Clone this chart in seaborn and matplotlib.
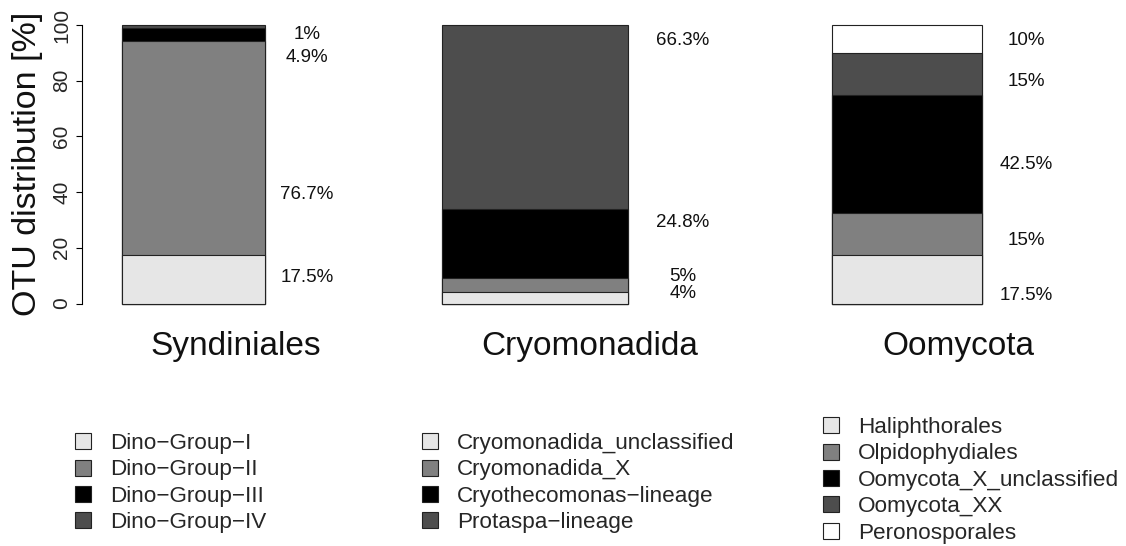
import numpy as np
import pandas as pd
import matplotlib
matplotlib.use("Agg")
import matplotlib.pyplot as plt
import seaborn as sns
from matplotlib.patches import Patch
from matplotlib.transforms import blended_transform_factory

sns.set_theme(style="white")
plt.rcParams['font.family'] = ['Liberation Sans', 'DejaVu Sans']

# ---------------- data ----------------
titles = ["Syndiniales", "Cryomonadida", "Oomycota"]

syn_groups = ["Dino\u2212Group\u2212I", "Dino\u2212Group\u2212II", "Dino\u2212Group\u2212III", "Dino\u2212Group\u2212IV"]
syn_values = [17.5, 76.7, 4.9, 1.0]
syn_labels = ["17.5%", "76.7%", "4.9%", "1%"]
syn_label_y = [9.2, 39.2, 88.4, 96.6]

cryo_groups = ["Cryomonadida_unclassified", "Cryomonadida_X", "Cryothecomonas\u2212lineage", "Protaspa\u2212lineage"]
cryo_values = [4.0, 5.0, 24.8, 66.3]
cryo_labels = ["4%", "5%", "24.8%", "66.3%"]
cryo_label_y = [3.6, 9.8, 29.0, 94.4]

oomy_groups = ["Haliphthorales", "Olpidophydiales", "Oomycota_X_unclassified", "Oomycota_XX", "Peronosporales"]
oomy_values = [17.5, 15.0, 42.5, 15.0, 10.0]
oomy_labels = ["17.5%", "15%", "42.5%", "15%", "10%"]
oomy_label_y = [3.0, 22.5, 50.0, 79.6, 94.4]

syn_colors = ["#e6e6e6", "#808080", "#000000", "#4d4d4d"]
cryo_colors = ["#e6e6e6", "#808080", "#000000", "#4d4d4d"]
oomy_colors = ["#e6e6e6", "#808080", "#000000", "#4d4d4d", "#ffffff"]

yticks = [0, 20, 40, 60, 80, 100]

# ---------------- layout (pixels) ----------------
W, H = 1126, 546
fig = plt.figure(figsize=(W / 100, H / 100), dpi=100)

panels = [
    dict(groups=syn_groups, values=syn_values, labels=syn_labels, ly=syn_label_y, colors=syn_colors,
         x0=121.5, x1=265, lab_x=307, title_x=236, leg_x=75, leg_top=433),
    dict(groups=cryo_groups, values=cryo_values, labels=cryo_labels, ly=cryo_label_y, colors=cryo_colors,
         x0=441.5, x1=627.5, lab_x=683, title_x=590, leg_x=422, leg_top=433),
    dict(groups=oomy_groups, values=oomy_values, labels=oomy_labels, ly=oomy_label_y, colors=oomy_colors,
         x0=832, x1=981.5, lab_x=1026, title_x=958, leg_x=823, leg_top=417),
]
y_top, y_bot = 25, 303.5

for i, p in enumerate(panels):
    ax = fig.add_axes([p["x0"] / W, 1 - y_bot / H, (p["x1"] - p["x0"]) / W, (y_bot - y_top) / H])
    cum = np.cumsum(p["values"])
    df = pd.DataFrame({"panel": titles[i], "group": p["groups"], "top": cum})
    # draw from the tallest cumulative bar down so each segment stays visible
    for k in range(len(df) - 1, -1, -1):
        sns.barplot(data=df.iloc[[k]], x="panel", y="top", color=p["colors"][k],
                    saturation=1, width=1.0, edgecolor="#222222", linewidth=0.8,
                    clip_on=False, ax=ax)
    ax.set_xlim(-0.5, 0.5)
    ax.set_ylim(0, 100)
    ax.set_xlabel("")
    ax.set_ylabel("")
    ax.set_xticks([])
    for s in ["top", "right", "bottom"]:
        ax.spines[s].set_visible(False)
    if i == 0:
        ax.spines["left"].set_visible(True)
        ax.spines["left"].set_position(("outward", 28.8))
        ax.spines["left"].set_bounds(0, 100)
        ax.spines["left"].set_color("black")
        ax.spines["left"].set_linewidth(0.8)
        ax.set_yticks(yticks)
        ax.set_yticklabels([str(t) for t in yticks], rotation=90, va="center")
        ax.tick_params(axis="y", left=True, length=4.5, width=0.8, color="black",
                       labelsize=15, pad=3, direction="out")
    else:
        ax.spines["left"].set_visible(False)
        ax.set_yticks([])

    tr = blended_transform_factory(fig.transFigure, ax.transData)
    for lab, yy in zip(p["labels"], p["ly"]):
        ax.text(p["lab_x"] / W, yy, lab, transform=tr, ha="center", va="center",
                fontsize=13.5, color="#111111")

    fig.text(p["title_x"] / W, 1 - 347 / H, titles[i], ha="center", va="center",
             fontsize=24, color="#111111")

    handles = [Patch(facecolor=c, edgecolor="#222222", linewidth=0.8) for c in p["colors"]]
    fig.legend(handles=handles, labels=p["groups"], loc="upper left",
               bbox_to_anchor=(p["leg_x"] / W, 1 - p["leg_top"] / H),
               frameon=False, fontsize=16.2, handlelength=0.72, handleheight=0.72,
               handletextpad=0.85, labelspacing=0.24, borderpad=0, borderaxespad=0)

fig.text(28 / W, 1 - 164 / H, "OTU distribution [%]", rotation=90, ha="center", va="center",
         fontsize=24.5, color="#111111")

fig.savefig("out.png", dpi=100)
